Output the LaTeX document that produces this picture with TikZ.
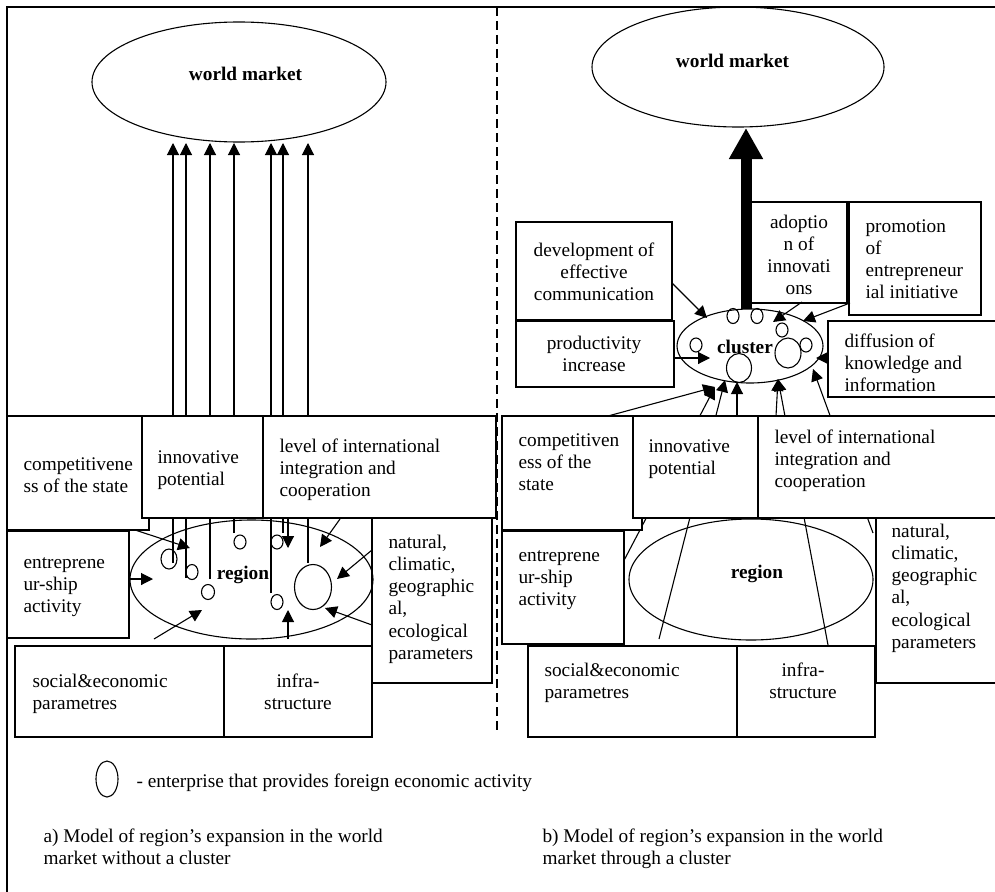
\documentclass[tikz,border=0pt]{standalone}
\usepackage{fontspec}
\setmainfont{Liberation Serif}
\usetikzlibrary{arrows.meta,shapes.geometric}
\begin{document}
\begin{tikzpicture}[x=1pt,y=-1pt,line width=1.1pt,
  box/.style={draw,fill=white,inner sep=0pt,line width=1.1pt},
  txt/.style={font=\fontsize{19.3}{22.3}\selectfont,inner sep=0pt,align=left,anchor=base west},
  txtc/.style={font=\fontsize{19.3}{22.3}\selectfont,inner sep=0pt,align=center,anchor=base},
  btxt/.style={font=\fontsize{19.3}{22.3}\selectfont\bfseries,inner sep=0pt,anchor=base},
  arr/.style={-{Triangle[length=12pt,width=12pt]}},
  ent/.style={draw,ellipse,inner sep=0pt,line width=1.1pt},
  bigell/.style={draw,ellipse,inner sep=0pt,line width=1.1pt}
]
\useasboundingbox (0,0) rectangle (995,891);
\clip (0,0) rectangle (995,891);

% frame and separator
\draw (7,900) -- (7,7) -- (1005,7);
\draw[dash pattern=on 9pt off 5pt] (497,7) -- (497,730);

% world market ellipses
\node[bigell,minimum width=294pt,minimum height=120pt] (wm1) at (239,82) {};
\node[btxt] (twm1) at (245.5,81) {world market};
\node[bigell,minimum width=292pt,minimum height=120pt] (wm2) at (738,67) {};
\node[btxt] (twm2) at (732.5,67) {world market};

% ---------- left panel: lines from enterprises to world market (drawn under boxes)
\coordinate (la1) at (173,563); \coordinate (lb1) at (173,143);
\coordinate (la2) at (186,578); \coordinate (lb2) at (186,143);
\coordinate (la3) at (210,579); \coordinate (lb3) at (210,143);
\coordinate (la4) at (234,533); \coordinate (lb4) at (234,143);
\coordinate (la5) at (271,593); \coordinate (lb5) at (271,143);
\coordinate (la6) at (283,533); \coordinate (lb6) at (283,143);
\coordinate (la7) at (308,563); \coordinate (lb7) at (308,143);
\foreach \i in {1,...,7} {\draw[arr] (la\i) -- (lb\i);}

% ---------- right panel: lines from factors to cluster (drawn under boxes)
\coordinate (ra1) at (608,416); \coordinate (rb1) at (715,387);
\coordinate (ra2) at (620,568); \coordinate (rb2) at (715,387);
\coordinate (ra3) at (659,639); \coordinate (rb3) at (725,380);
\coordinate (ra4) at (737,416); \coordinate (rb4) at (737,382);
\coordinate (ra5) at (776,416); \coordinate (rb5) at (778,379);
\coordinate (ra6) at (828,645); \coordinate (rb6) at (778,379);
\coordinate (ra7) at (873,533); \coordinate (rb7) at (813,369);
\foreach \i in {1,...,7} {\draw[arr] (ra\i) -- (rb\i);}

% thick arrow cluster -> world market
\coordinate (thA) at (746,309); \coordinate (thB) at (746,128);
\draw[line width=11pt,-{Triangle[length=31pt,width=32pt]}] (thA) -- (thB);

% ---------- left boxes
\node[box,minimum width=142pt,minimum height=114pt] (lcomp) at (78,473) {};
\node[box,minimum width=121pt,minimum height=102pt] (linnov) at (202.5,467) {};
\node[box,minimum width=233pt,minimum height=102pt] (llevel) at (379.5,467) {};
\node[box,minimum width=122pt,minimum height=107pt] (lentre) at (68,584.5) {};
\node[box,minimum width=120pt,minimum height=165pt] (lnat) at (432,600.5) {};
\node[box,minimum width=209pt,minimum height=91pt] (lsoc) at (119.5,691.5) {};
\node[box,minimum width=148pt,minimum height=91pt] (linfra) at (298,691.5) {};

\node[txt] (tlcomp) at (23,492.3) {competitivene\\ss of the state};
\node[txt] (tlinnov) at (157,485.3) {innovative\\potential};
\node[txt] (tllevel) at (279,496.6) {level of international\\integration and\\cooperation};
\node[txt] (tlentre) at (23,612.6) {entreprene\\ur-ship\\activity};
\node[txt] (tlnat) at (388,659.5) {natural,\\climatic,\\geographic\\al,\\ecological\\parameters};
\node[txt] (tlsoc) at (32,709.3) {social\&economic\\parametres};
\node[txtc] (tlinfra) at (298,709.3) {infra-\\structure};

% ---------- right boxes
\node[box,minimum width=156pt,minimum height=98pt] (rdev) at (594,271) {};
\node[box,minimum width=96pt,minimum height=101pt] (radopt) at (799,252.5) {};
\node[box,minimum width=132pt,minimum height=113pt] (rpromo) at (915,258.5) {};
\node[box,minimum width=158pt,minimum height=66pt] (rprod) at (595,354) {};
\node[box,minimum width=177pt,minimum height=76pt] (rdiff) at (916.5,359) {};
\node[box,minimum width=140pt,minimum height=114pt] (rcomp) at (572,473) {};
\node[box,minimum width=125pt,minimum height=102pt] (rinnov) at (695.5,467) {};
\node[box,minimum width=247pt,minimum height=102pt] (rlevel) at (881.5,467) {};
\node[box,minimum width=122pt,minimum height=113pt] (rentre) at (563,587.5) {};
\node[box,minimum width=129pt,minimum height=165pt] (rnat) at (940.5,600.5) {};
\node[box,minimum width=209pt,minimum height=91pt] (rsoc) at (632.5,691.5) {};
\node[box,minimum width=138pt,minimum height=91pt] (rinfra) at (806,691.5) {};

\node[txtc] (trdev) at (594,300.6) {development of\\effective\\communication};
\node[txtc] (tradopt) at (799,294.9) {adoptio\\n of\\innovati\\ons};
\node[txt] (trpromo) at (865,298.9) {promotion\\of\\entrepreneur\\ial initiative};
\node[txtc] (trprod) at (594,371.3) {productivity\\increase};
\node[txt] (trdiff) at (844,391.6) {diffusion of\\knowledge and\\information};
\node[txt] (trcomp) at (518,490.6) {competitiven\\ess of the\\state};
\node[txt] (trinnov) at (648,474.3) {innovative\\potential};
\node[txt] (trlevel) at (774,487.6) {level of international\\integration and\\cooperation};
\node[txt] (trentre) at (518,605.6) {entreprene\\ur-ship\\activity};
\node[txt] (trnat) at (891,648.5) {natural,\\climatic,\\geographic\\al,\\ecological\\parameters};
\node[txt] (trsoc) at (544,698.3) {social\&economic\\parametres};
\node[txtc] (trinfra) at (803,698.3) {infra-\\structure};

% ---------- regions and cluster
\node[bigell,minimum width=243pt,minimum height=119pt] (lreg) at (251.5,579.5) {};
\node[btxt] (tlreg) at (243,579) {region};
\node[bigell,minimum width=244pt,minimum height=121pt] (rreg) at (751,579.5) {};
\node[btxt] (trreg) at (757,578) {region};
\node[bigell,minimum width=146pt,minimum height=74pt] (clu) at (750,346) {};
\node[btxt] (tclu) at (745,353) {cluster};

% enterprises in the left region
\node[ent,minimum width=16pt,minimum height=20pt] (c1) at (169,559) {};
\node[ent,minimum width=12pt,minimum height=15pt] (c2) at (192,572) {};
\node[ent,minimum width=13pt,minimum height=15pt] (c3) at (208,592) {};
\node[ent,minimum width=12pt,minimum height=14pt] (c4) at (240,542) {};
\node[ent,minimum width=12pt,minimum height=14pt] (c5) at (277,542) {};
\node[ent,minimum width=12pt,minimum height=15pt] (c6) at (277,602) {};
\node[ent,minimum width=37pt,minimum height=45pt] (c7) at (313,587) {};

% enterprises in the cluster
\node[ent,minimum width=12pt,minimum height=15pt] (k1) at (733,316) {};
\node[ent,minimum width=12pt,minimum height=15pt] (k2) at (757,316) {};
\node[ent,minimum width=12pt,minimum height=14pt] (k3) at (782,330) {};
\node[ent,minimum width=12pt,minimum height=14pt] (k4) at (696,345) {};
\node[ent,minimum width=26pt,minimum height=30pt] (k5) at (788,353) {};
\node[ent,minimum width=12pt,minimum height=14pt] (k6) at (806,345) {};
\node[ent,minimum width=25pt,minimum height=29pt] (k7) at (739,368) {};

% ---------- left factor arrows into the region
\coordinate (lf1a) at (135,530); \coordinate (lf1b) at (190,548);
\coordinate (lf2a) at (129,579); \coordinate (lf2b) at (153,579);
\coordinate (lf3a) at (154,639); \coordinate (lf3b) at (202,610);
\coordinate (lf4a) at (288,639); \coordinate (lf4b) at (288,610);
\coordinate (lf5a) at (372,550); \coordinate (lf5b) at (337,579);
\coordinate (lf6a) at (372,625); \coordinate (lf6b) at (325,608);
\coordinate (lf7a) at (340,519); \coordinate (lf7b) at (320,547);
\coordinate (lf8a) at (288,518); \coordinate (lf8b) at (288,548);
\foreach \i in {1,...,8} {\draw[arr] (lf\i a) -- (lf\i b);}

% ---------- right upper arrows into the cluster
\coordinate (rf1a) at (672,283); \coordinate (rf1b) at (707,318);
\coordinate (rf2a) at (802,302); \coordinate (rf2b) at (773,322);
\coordinate (rf3a) at (850,303); \coordinate (rf3b) at (803,321);
\coordinate (rf4a) at (674,358); \coordinate (rf4b) at (710,358);
\coordinate (rf5a) at (829,358); \coordinate (rf5b) at (816,358);
\foreach \i in {1,...,5} {\draw[arr] (rf\i a) -- (rf\i b);}

% ---------- legend
\node[ent,minimum width=22pt,minimum height=36pt] (leg) at (107,779) {};
\node[txt] (tleg) at (136,787) {- enterprise that provides foreign economic activity};
\node[txt] (ta) at (43,864.3) {a) Model of region’s expansion in the world\\market without a cluster};
\node[txt] (tb) at (542,864.3) {b) Model of region’s expansion in the world\\market through a cluster};
\end{tikzpicture}
\end{document}
